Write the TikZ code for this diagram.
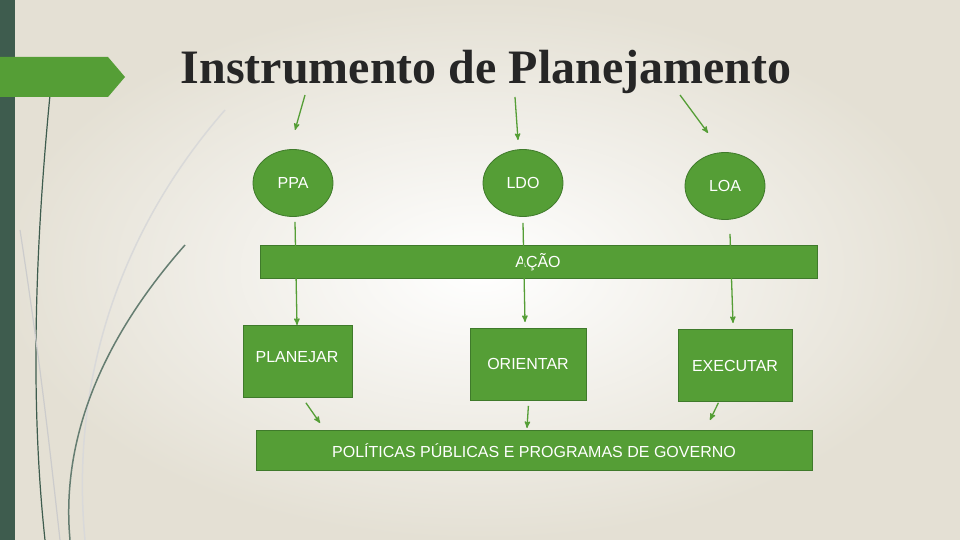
\documentclass[tikz,border=0pt]{standalone}
\usepackage{fontspec}
\setmainfont{Liberation Sans}
\newfontfamily\titlefont{Liberation Serif}
\usetikzlibrary{positioning, arrows, shapes.geometric}
\definecolor{leaf}{HTML}{559E36}
\definecolor{leafdark}{HTML}{3F7A2B}
\definecolor{slate}{HTML}{3E5C4E}
\definecolor{paper}{HTML}{E4E0D4}
\tikzset{
x=1pt, y=-1pt,
>=stealth', % small pointed heads
every tool/.style={fill=leaf, draw=leafdark, thick, text=white, font=\fontsize{16}{18}\selectfont},
tool/.style={every tool, ellipse, minimum width=80, minimum height=67},
bar/.style={every tool, rectangle, anchor=north west},
lbl/.style={text=white, font=\fontsize{16}{18}\selectfont},
link/.style={->, leaf, line width=1.3},
}
\begin{document}
\begin{tikzpicture}
\useasboundingbox (0,0) rectangle (960,540);
\shade[inner color=white, outer color=paper, shading=radial] (0,0) rectangle (960,540);
\fill[slate] (0,0) rectangle (15,540);
% grass strokes
\draw[gray!30, line width=1.5] (225,110) .. controls (120,230) and (70,380) .. (85,540);
\draw[slate!80, line width=1.5] (185,245) .. controls (110,330) and (60,430) .. (70,540);
\draw[slate, line width=1.2] (50,95) .. controls (35,250) and (30,400) .. (45,540);
\draw[gray!40, line width=1.2] (20,230) .. controls (40,360) and (50,450) .. (60,540);
\fill[leaf] (0,57) -- (108,57) -- (125,77) -- (108,97) -- (0,97) -- cycle;
\node[font=\titlefont\bfseries\fontsize{48}{52}\selectfont, text=black!85] (title) at (486,72) {Instrumento de Planejamento};
% instruments
\node[tool] (ppa) at (293,183) {PPA};
\node[tool] (ldo) at (523,183) {LDO};
\node[tool] (loa) at (725,186) {LOA};
\node[bar, minimum width=557, minimum height=33] (acao) at (260,245) {};
\node[lbl] (acaolbl) at (538,262) {AÇÃO};
\node[bar, minimum width=109, minimum height=72] (planejar) at (243,325) {};
\node[lbl] at (297,357) {PLANEJAR};
\node[bar, minimum width=116, minimum height=72] (orientar) at (470,328) {};
\node[lbl] at (528,364) {ORIENTAR};
\node[bar, minimum width=114, minimum height=72] (executar) at (678,329) {};
\node[lbl] at (735,366) {EXECUTAR};
\node[bar, minimum width=556, minimum height=40] (politicas) at (256,430) {};
\node[lbl] at (534,451) {POLÍTICAS PÚBLICAS E PROGRAMAS DE GOVERNO};
% arrows
\coordinate (t1) at (305,95); \coordinate (t2) at (515,97); \coordinate (t3) at (680,95);
\draw[link] (t1) -- (295,130);
\draw[link] (t2) -- (518,140);
\draw[link] (t3) -- (708,133);
\draw[link] (ppa.south) ++(2,5) -- (planejar.north -| 297,0);
\draw[link] (ldo.south) ++(0,6) -- (525,322);
\draw[link] (loa.south) ++(5,14) -- (733,323);
\draw[link] (planejar.south) ++(8,5) -- (320,423);
\draw[link] (orientar.south) ++(0,5) -- (527,428);
\draw[link] (executar.south) ++(-17,1) -- (710,420);
\end{tikzpicture}
\end{document}
